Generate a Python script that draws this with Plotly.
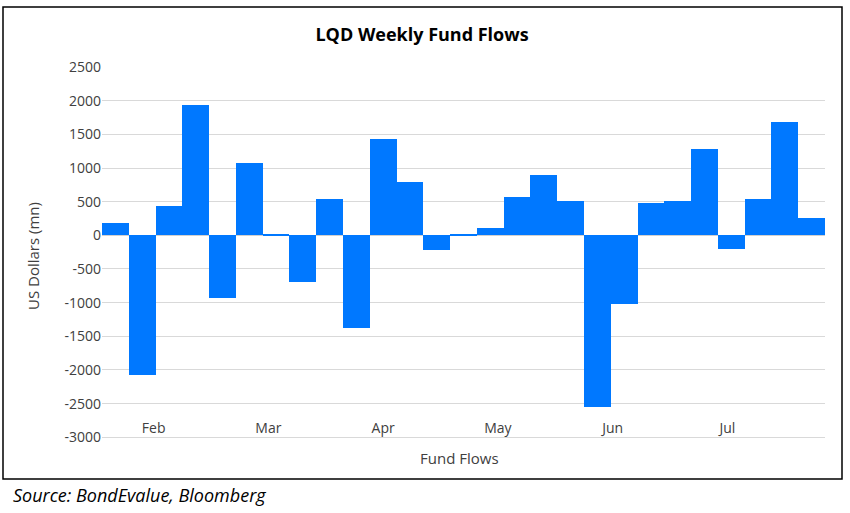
import pandas as pd
import plotly.graph_objects as go

# Weekly LQD fund flows (US$ mn)
week_start = "2021-01-22"
n_weeks = 27
flows = [180, -2070, 435, 1940, -935, 1070, 20, -695, 535, -1380,
         1430, 790, -220, 20, 105, 565, 895, 505, -2555, -1020,
         475, 505, 1280, -210, 540, 1680, 255]
weeks = pd.date_range(week_start, periods=n_weeks, freq="7D")

tick_dates = ["2021-02-01", "2021-03-03", "2021-04-02", "2021-05-02", "2021-06-01", "2021-07-01"]
tick_labels = ["Feb", "Mar", "Apr", "May", "Jun", "Jul"]
y_ticks = [-3000, -2500, -2000, -1500, -1000, -500, 0, 500, 1000, 1500, 2000, 2500]
y_tick_labels = ["-3000", "-2500", "-2000", "-1500", "-1000", "-500", "0",
                 "500", "1000", "1500", "2000", "2500"]

FONT = "Open Sans"
TXT = "#404040"

fig = go.Figure()
fig.add_trace(go.Bar(x=weeks, y=flows, marker=dict(color="#0078FF", line=dict(width=0)),
                     name="Fund Flows"))

W, H = 850, 513
L, R, T, B = 102, 25, 67, 74
pw, ph = W - L - R, H - T - B

def px_x(p):
    return (p - L) / pw

def px_y(p):
    return (H - B - p) / ph

fig.update_layout(
    width=W, height=H,
    margin=dict(l=L, r=R, t=T, b=B),
    plot_bgcolor="white", paper_bgcolor="white",
    bargap=0, showlegend=False,
    font=dict(family=FONT, color=TXT, size=14),
    title=dict(text="<b>LQD Weekly Fund Flows</b>", x=422 / W, xanchor="center",
               y=1 - 35 / H, yanchor="middle",
               font=dict(family=FONT, size=18, color="#000000")),
)
fig.update_xaxes(
    type="date", tickmode="array", tickvals=tick_dates, ticktext=tick_labels,
    anchor="free", position=px_y(418),
    ticks="", showgrid=False, showline=False, zeroline=False,
    tickfont=dict(family=FONT, size=14, color=TXT),
)
fig.update_yaxes(
    range=[-3025, 2500], tickmode="array", tickvals=y_ticks, ticktext=y_tick_labels,
    showgrid=True, gridcolor="#d9d9d9", gridwidth=1,
    zeroline=True, zerolinecolor="#d0d0d0", zerolinewidth=1,
    showline=False, ticks="", ticklen=0, tickfont=dict(family=FONT, size=14, color=TXT),
)

fig.add_annotation(text="US Dollars (mn)", x=px_x(33), y=px_y(256), xref="paper", yref="paper",
                   textangle=-90, showarrow=False, font=dict(family=FONT, size=15, color=TXT),
                   xanchor="center", yanchor="middle")
fig.add_annotation(text="Fund Flows", x=px_x(459), y=px_y(458), xref="paper", yref="paper",
                   showarrow=False, font=dict(family=FONT, size=15, color=TXT),
                   xanchor="center", yanchor="middle")
fig.add_annotation(text="<i>Source: BondEvalue, Bloomberg</i>", x=px_x(11), y=px_y(495),
                   xref="paper", yref="paper", showarrow=False,
                   font=dict(family=FONT, size=18, color="#000000"),
                   xanchor="left", yanchor="middle")

fig.add_shape(type="rect", xref="paper", yref="paper",
              x0=px_x(3), x1=px_x(842), y0=px_y(479), y1=px_y(7),
              line=dict(color="#000000", width=1.5), fillcolor="rgba(0,0,0,0)", layer="below")

fig.write_html("out.html", config={"displayModeBar": False},
               post_script="document.body.style.margin='0';")
